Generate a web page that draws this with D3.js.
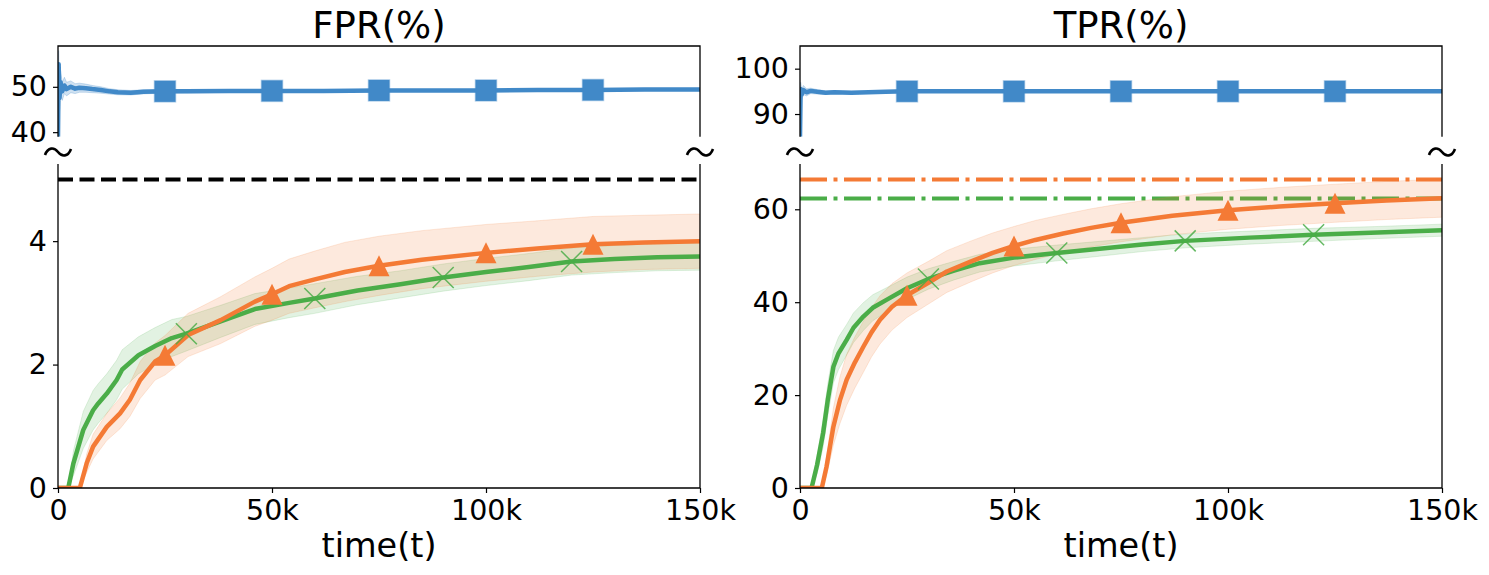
<!DOCTYPE html>
<html>
<head>
<meta charset="utf-8">
<script src="https://cdn.jsdelivr.net/npm/d3@7"></script>
<style>
body { margin: 0; background: #fff; }
text { font-family: "DejaVu Sans", sans-serif; fill: #000; }
</style>
</head>
<body>
<svg id="chart" width="1489" height="575"></svg>
<script>
// time axis in thousands of steps
var xTicks = [0, 50, 100, 150];
var xTickLabels = ["0", "50k", "100k", "150k"];

// ---- FPR(%) ----
var fprBlueT = [0, 0.15, 0.35, 0.6, 1, 1.5, 2, 3, 4, 5, 6.5, 8, 10, 12, 14, 17, 20, 25, 30, 40, 50, 62, 75, 87, 100, 112, 125, 137, 150];
var fprBlueV = [39, 55, 47.5, 51, 49, 50.3, 49.5, 50, 49.6, 49.8, 49.7, 49.5, 49.3, 49.0, 48.8, 48.7, 48.9, 49.0, 49.0, 49.1, 49.1, 49.1, 49.2, 49.2, 49.2, 49.3, 49.3, 49.4, 49.4];
var fprBlueS = [0, 3, 3, 2.5, 2, 1.8, 1.5, 1.3, 1.1, 1.0, 0.9, 0.8, 0.7, 0.6, 0.55, 0.5, 0.45, 0.4, 0.35, 0.3, 0.3, 0.25, 0.25, 0.25, 0.25, 0.25, 0.25, 0.25, 0.25];

var fprOrangeT = [0, 5.1, 6.7, 8.2, 11.4, 14.5, 16.8, 19.2, 22.7, 25, 30.4, 38, 46, 50, 54, 60, 67, 75, 85, 100, 112, 125, 137, 150];
var fprOrangeV = [0, 0, 0.40, 0.67, 0.99, 1.21, 1.43, 1.75, 2.05, 2.15, 2.48, 2.72, 3.02, 3.14, 3.27, 3.38, 3.50, 3.60, 3.70, 3.81, 3.88, 3.95, 3.98, 4.00];
var fprOrangeS = [0, 0, 0.15, 0.2, 0.22, 0.25, 0.27, 0.3, 0.3, 0.32, 0.35, 0.38, 0.4, 0.42, 0.44, 0.46, 0.48, 0.48, 0.47, 0.46, 0.45, 0.45, 0.44, 0.44];

var fprGreenT = [0, 2.4, 3.6, 5.9, 8.2, 9.4, 11.4, 13.7, 15, 18.8, 22.7, 26.6, 30, 38, 46, 54, 60, 70, 80, 90, 100, 110, 120, 130, 140, 150];
var fprGreenV = [0, 0, 0.40, 0.94, 1.26, 1.37, 1.53, 1.75, 1.92, 2.15, 2.30, 2.43, 2.50, 2.70, 2.90, 3.00, 3.07, 3.20, 3.30, 3.41, 3.50, 3.58, 3.67, 3.71, 3.74, 3.75];
var fprGreenS = [0, 0, 0.2, 0.3, 0.32, 0.32, 0.32, 0.32, 0.32, 0.3, 0.3, 0.3, 0.28, 0.26, 0.25, 0.24, 0.24, 0.23, 0.22, 0.22, 0.22, 0.22, 0.22, 0.22, 0.22, 0.22];

var fprTopTicks = [40, 50];
var fprBottomTicks = [0, 2, 4];
var fprLimit = 5;

// ---- TPR(%) ----
var tprBlueT = [0, 0.15, 0.4, 0.8, 1.5, 2.5, 4, 6, 8, 12, 16, 20, 25, 35, 50, 75, 100, 125, 150];
var tprBlueV = [85, 95.5, 94.3, 95.3, 94.8, 95.1, 94.9, 94.7, 94.8, 94.7, 94.8, 94.9, 95.0, 95.0, 95.0, 95.0, 95.0, 95.0, 95.0];
var tprBlueS = [0, 1.5, 1.2, 1.0, 0.8, 0.6, 0.5, 0.4, 0.35, 0.3, 0.25, 0.2, 0.2, 0.15, 0.15, 0.15, 0.15, 0.15, 0.15];

var tprOrangeT = [0, 5.1, 6.2, 7.8, 9.3, 10.9, 12.8, 14.8, 16.7, 18.7, 21.5, 25, 30, 34.3, 40, 45, 50, 55, 61.5, 68, 75, 87, 100, 112, 125, 137, 150];
var tprOrangeV = [0, 0, 4.6, 13.2, 18.8, 23.3, 27, 30.4, 33.5, 36.2, 39, 41.5, 44.2, 46.6, 48.8, 50.6, 52.1, 53.4, 54.8, 56, 57.1, 58.6, 59.8, 60.6, 61.3, 61.9, 62.4];
var tprOrangeS = [0, 0, 2, 4, 5, 5.5, 5.5, 5.5, 5.3, 5.2, 5, 4.8, 4.6, 4.5, 4.4, 4.3, 4.2, 4.2, 4.1, 4.1, 4.1, 4.1, 4.1, 4.1, 4.1, 4.1, 4.1];

var tprGreenT = [0, 2.7, 4, 5.4, 6.5, 7.8, 9, 10.9, 12.5, 14.8, 17, 20.2, 25, 30, 36, 42, 50, 60, 70, 80, 90, 105, 120, 135, 150];
var tprGreenV = [0, 0, 5, 11.8, 19, 26.1, 29, 31.9, 34.5, 36.9, 38.8, 40.5, 43, 45.0, 46.8, 48.4, 49.6, 50.6, 51.5, 52.4, 53.2, 53.9, 54.5, 55.0, 55.5];
var tprGreenS = [0, 0, 2, 3, 3.5, 3.5, 3.5, 3.3, 3.2, 3, 2.8, 2.6, 2.4, 2.2, 2, 1.9, 1.8, 1.7, 1.6, 1.5, 1.5, 1.4, 1.4, 1.3, 1.3];

var tprTopTicks = [90, 100];
var tprBottomTicks = [0, 20, 40, 60];
var tprRefOrange = 66.4;
var tprRefGreen = 62.3;

// marker positions (thousands)
var squareTimes = [25, 50, 75, 100, 125];
var triangleTimes = [25, 50, 75, 100, 125];
var crossTimes = [30, 60, 90, 120];

var blue = "#4189c8", orange = "#f47a35", green = "#4aad48";

function series(t, v, s) {
    return t.map(function(d, i) { return {t: d, v: v[i], s: s[i]}; });
}

var svg = d3.select("#chart");
var topY = [136.7, 46], botY = [488, 164];

var panels = [
    {left: 58, right: 700, title: "FPR(%)", topDomain: [39, 59], topTicks: fprTopTicks,
     botDomain: [0, 5.25], botTicks: fprBottomTicks,
     blue: series(fprBlueT, fprBlueV, fprBlueS),
     orange: series(fprOrangeT, fprOrangeV, fprOrangeS),
     green: series(fprGreenT, fprGreenV, fprGreenS),
     refs: [{v: fprLimit, color: "#000", dash: "15,6.5"}]},
    {left: 800, right: 1442, title: "TPR(%)", topDomain: [85, 105], topTicks: tprTopTicks,
     botDomain: [0, 69.75], botTicks: tprBottomTicks,
     blue: series(tprBlueT, tprBlueV, tprBlueS),
     orange: series(tprOrangeT, tprOrangeV, tprOrangeS),
     green: series(tprGreenT, tprGreenV, tprGreenS),
     refs: [{v: tprRefOrange, color: orange, dash: "27,6.5,4,6.5"},
            {v: tprRefGreen, color: green, dash: "27,6.5,4,6.5"}]}
];

var defs = svg.append("defs");

panels.forEach(function(p, pi) {
    var x = d3.scaleLinear().domain([0, 150]).range([p.left, p.right]);
    var yT = d3.scaleLinear().domain(p.topDomain).range(topY);
    var yB = d3.scaleLinear().domain(p.botDomain).range(botY);

    defs.append("clipPath").attr("id", "ct" + pi).append("rect")
        .attr("x", p.left).attr("y", topY[1]).attr("width", p.right - p.left).attr("height", topY[0] - topY[1]);
    defs.append("clipPath").attr("id", "cb" + pi).append("rect")
        .attr("x", p.left).attr("y", botY[1] - 5).attr("width", p.right - p.left).attr("height", botY[0] - botY[1] + 5);

    function band(g, data, y, color, op) {
        g.append("path").datum(data)
            .attr("d", d3.area().x(function(d) { return x(d.t); })
                .y0(function(d) { return y(d.v - d.s); })
                .y1(function(d) { return y(d.v + d.s); }))
            .attr("fill", color).attr("fill-opacity", op)
            .attr("stroke", color).attr("stroke-opacity", op).attr("stroke-width", 1);
    }
    function line(g, data, y, color) {
        g.append("path").datum(data)
            .attr("d", d3.line().x(function(d) { return x(d.t); }).y(function(d) { return y(d.v); }))
            .attr("fill", "none").attr("stroke", color).attr("stroke-width", 4.5)
            .attr("stroke-linejoin", "round");
    }
    function at(data, times) {
        return data.filter(function(d) { return times.indexOf(d.t) >= 0; });
    }

    // ---- top part ----
    var gt = svg.append("g").attr("clip-path", "url(#ct" + pi + ")");
    band(gt, p.blue, yT, blue, 0.25);
    line(gt, p.blue, yT, blue);
    gt.selectAll(".sq").data(at(p.blue, squareTimes)).enter().append("rect")
        .attr("x", function(d) { return x(d.t) - 10.5; })
        .attr("y", function(d) { return yT(d.v) - 10.5; })
        .attr("width", 21).attr("height", 21)
        .attr("fill", blue).attr("stroke", blue).attr("stroke-opacity", 0.4).attr("stroke-width", 1.5);

    // ---- bottom part ----
    var gb = svg.append("g").attr("clip-path", "url(#cb" + pi + ")");
    p.refs.forEach(function(r) {
        gb.append("line").attr("x1", p.left).attr("x2", p.right)
            .attr("y1", yB(r.v)).attr("y2", yB(r.v))
            .attr("stroke", r.color).attr("stroke-width", 4).attr("stroke-dasharray", r.dash);
    });
    band(gb, p.green, yB, green, 0.16);
    band(gb, p.orange, yB, orange, 0.17);
    line(gb, p.green, yB, green);
    line(gb, p.orange, yB, orange);
    gb.selectAll(".cr").data(at(p.green, crossTimes)).enter().append("path")
        .attr("transform", function(d) { return "translate(" + x(d.t) + "," + yB(d.v) + ")"; })
        .attr("d", "M-10.5,-10.5L10.5,10.5M-10.5,10.5L10.5,-10.5")
        .attr("stroke", green).attr("stroke-opacity", 0.85).attr("stroke-width", 1.5).attr("fill", "none");
    gb.selectAll(".tri").data(at(p.orange, triangleTimes)).enter().append("path")
        .attr("transform", function(d) { return "translate(" + x(d.t) + "," + yB(d.v) + ")"; })
        .attr("d", "M0,-10.5L10.5,10.5L-10.5,10.5Z")
        .attr("fill", orange);

    // ---- axes ----
    var axT = svg.append("g").attr("transform", "translate(" + p.left + ",0)")
        .call(d3.axisLeft(yT).tickValues(p.topTicks).tickFormat(d3.format("d")).tickSize(5).tickPadding(6));
    var axB = svg.append("g").attr("transform", "translate(" + p.left + ",0)")
        .call(d3.axisLeft(yB).tickValues(p.botTicks).tickFormat(d3.format("d")).tickSize(5).tickPadding(6));
    var axX = svg.append("g").attr("transform", "translate(0," + botY[0] + ")")
        .call(d3.axisBottom(x).tickValues(xTicks).tickFormat(function(d, i) { return xTickLabels[i]; })
            .tickSize(5).tickPadding(7));
    [axT, axB, axX].forEach(function(a) {
        a.select(".domain").remove();
        a.selectAll("text").attr("font-size", 28.5).attr("font-family", "DejaVu Sans").attr("fill", "#000");
        a.selectAll("line").attr("stroke", "#000").attr("stroke-width", 1.2);
    });

    // spines
    var sp = svg.append("g").attr("stroke", "#000").attr("stroke-width", 1.3).attr("fill", "none");
    sp.append("path").attr("d", "M" + p.left + "," + topY[0] + "V" + topY[1] + "H" + p.right + "V" + topY[0]);
    sp.append("path").attr("d", "M" + p.left + "," + botY[1] + "V" + botY[0] + "H" + p.right + "V" + botY[1]);

    // break marks
    [p.left, p.right].forEach(function(bx) {
        svg.append("path").attr("transform", "translate(" + bx + ",152)")
            .attr("d", "M-13,3C-10,-5 -4,-5 0,0C4,5 10,5 13,-3")
            .attr("fill", "none").attr("stroke", "#000").attr("stroke-width", 2.6);
    });

    svg.append("text").attr("x", (p.left + p.right) / 2).attr("y", 38)
        .attr("text-anchor", "middle").attr("font-size", 37).text(p.title);
    svg.append("text").attr("x", (p.left + p.right) / 2).attr("y", 557)
        .attr("text-anchor", "middle").attr("font-size", 33.5).text("time(t)");
});
</script>
</body>
</html>
